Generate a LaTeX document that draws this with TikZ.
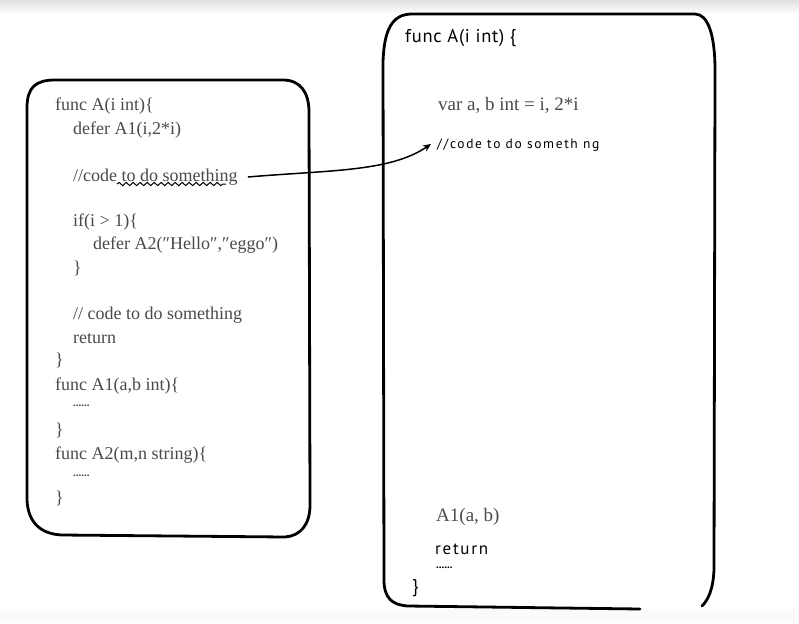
\documentclass[tikz,border=0pt]{standalone}
\usepackage{fontspec}
\setmainfont{Liberation Serif}
\newfontfamily\handfont{PT Sans}
\usetikzlibrary{decorations.pathmorphing,arrows.meta}
\definecolor{codegray}{HTML}{4A4A4A}
\tikzset{
  x=1pt,y=-1pt,
  boxline/.style={line width=2.8pt,line join=round,line cap=round},
  serifcode/.style={anchor=west,inner sep=0pt,text=codegray,font=\fontsize{18}{20}\selectfont},
  handcode/.style={anchor=west,inner sep=0pt,text=black,font=\handfont\fontsize{18.5}{20}\selectfont\addfontfeature{LetterSpace=4}},
  dots/.style={anchor=west,inner sep=0pt,text=codegray,font=\bfseries\fontsize{11}{12}\selectfont},
}
\begin{document}
\begin{tikzpicture}
\useasboundingbox (0,0) rectangle (799,623);
\fill[white] (0,0) rectangle (799,623);
\shade[top color=black!12,bottom color=white] (0,0) rectangle (799,14);
\fill[black!2] (0,609) rectangle (799,623);
% left box
\draw[boxline] (27,108) .. controls (27,88) and (35,80) .. (55,80) -- (283,80)
  .. controls (300,80) and (309,92) .. (309,112) -- (310,505)
  .. controls (310,525) and (300,536) .. (285,537) -- (62,535)
  .. controls (40,534) and (28,522) .. (27,500) -- cycle;
% right box (bottom right partly hidden, as in the reference)
\draw[boxline] (640,609) -- (408,606) .. controls (392,605) and (384,598) .. (384,580)
  -- (383,62) .. controls (384,30) and (392,14) .. (412,14) -- (695,14)
  .. controls (708,14) and (715,35) .. (715,70) -- (714,570)
  .. controls (713,590) and (708,600) .. (702,606);
% left code
\node[serifcode] (l1) at (55,106) {func A(i int)\{};
\node[serifcode] (l2) at (73,130) {defer A1(i,2*i)};
\node[serifcode] (l3) at (73,177) {//code to do something};
\node[serifcode] (l4) at (73,222) {if(i > 1)\{};
\node[serifcode] (l5) at (93,245) {defer A2(\char"2033Hello\char"2033,\char"2033eggo\char"2033)};
\node[serifcode] (l6) at (73,268) {\}};
\node[serifcode] (l7) at (73,315) {// code to do something};
\node[serifcode] (l8) at (73,339) {return};
\node[serifcode] (l9) at (55,360) {\}};
\node[serifcode] (l10) at (55,386) {func A1(a,b int)\{};
\node[dots] (l11) at (73,406) {......};
\node[serifcode] (l12) at (55,430) {\}};
\node[serifcode] (l13) at (55,455) {func A2(m,n string)\{};
\node[dots] (l14) at (73,476) {......};
\node[serifcode] (l15) at (55,498) {\}};
% wavy underline
\draw[line width=1pt,decorate,decoration={snake,amplitude=1.6pt,segment length=7pt}] (117,184) -- (226,184);
% right code
\node[handcode] (r1) at (405,38) {func A(i int) \{};
\node[serifcode,font=\fontsize{19}{21}\selectfont] (r2) at (438,105) {var a, b int = i, 2*i};
\node[handcode,font=\handfont\fontsize{13.5}{15}\selectfont\addfontfeature{LetterSpace=12}] (r3) at (437,145) {//code to do someth ng};
\node[serifcode,font=\fontsize{19}{21}\selectfont] (r4) at (436,517) {A1(a, b)};
\node[handcode,font=\handfont\fontsize{17}{18}\selectfont\addfontfeature{LetterSpace=10}] (r5) at (435,549) {return};
\node[dots,text=black] (r6) at (436,568) {......};
\node[handcode] (r7) at (412,588) {\}};
% arrow
\draw[line width=1.5pt,-{Stealth[length=8pt,width=7pt]}] ([xshift=10pt]l3.east) .. controls (330,170) and (390,172) .. ([xshift=-6pt,yshift=1pt]r3.west);
\end{tikzpicture}
\end{document}
